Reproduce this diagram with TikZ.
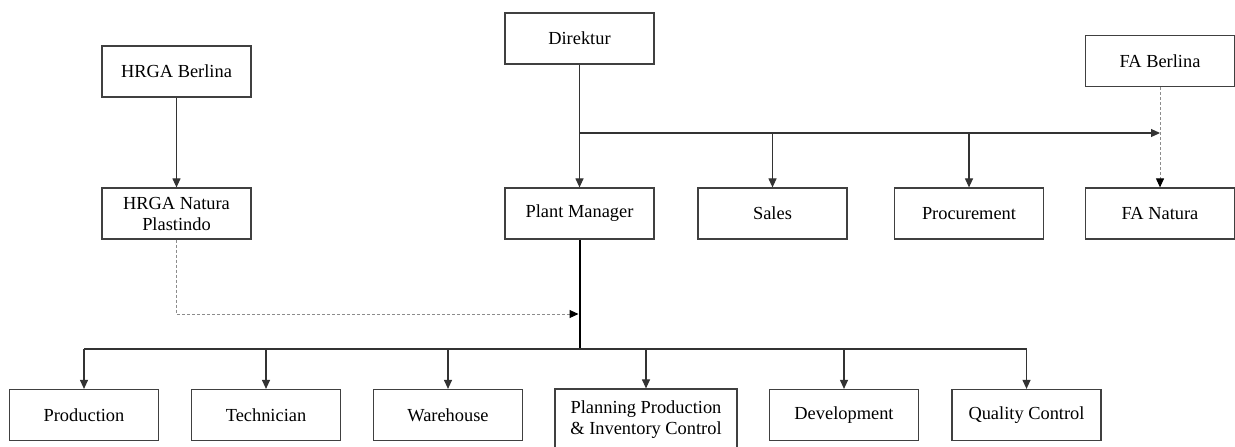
\documentclass[tikz,border=0pt]{standalone}
\usepackage{fontspec}
\setmainfont{Liberation Serif}
\usepackage{tikz}
\usetikzlibrary{arrows.meta}
\usetikzlibrary{positioning}

\begin{document}
\begin{tikzpicture}[x=0.5pt, y=-0.5pt, align=center,
	font=\fontsize{9.2}{10.5}\selectfont,
	unit/.style={rectangle, draw=black!75, line width=0.6pt, fill=white,
				minimum width=74.5pt, minimum height=25.5pt, inner sep=1pt},
	wide/.style={unit, minimum width=91pt, minimum height=31pt},
	link/.style={draw=black!80, line width=0.55pt},
	arr/.style={link, -{Triangle[length=4.5pt, width=4pt]}},
	dotln/.style={draw=black!45, line width=0.5pt, dash pattern=on 1.5pt off 1pt,
				-{Triangle[length=4.5pt, width=4pt, black]}},
	spine/.style={draw=black, line width=1pt},
]
\clip (0,0) rectangle (1235,446);
\fill [white] (0,0) rectangle (1235,446);
% top level
\node [unit] (dir)   at (579.5,38.5)  {Direktur};
\node [unit] (hrgab) at (176.5,71.5)  {HRGA Berlina};
\node [unit] (fab)   at (1160,61)     {FA Berlina};
% second level
\node [unit] (hrgan) at (176.5,213.5) {HRGA Natura\\Plastindo};
\node [unit] (pm)    at (579.5,213.5) {Plant Manager};
\node [unit] (sales) at (772.5,213.5) {Sales};
\node [unit] (proc)  at (969,213.5)   {Procurement};
\node [unit] (fan)   at (1160,213.5)  {FA Natura};
% departments
\node [unit] (prod)  at (84,415)      {Production};
\node [unit] (tech)  at (266,415)     {Technician};
\node [unit] (ware)  at (448,415)     {Warehouse};
\node [wide] (plan)  at (646,420)     {Planning Production\\\& Inventory Control};
\node [unit] (dev)   at (844,415)     {Development};
\node [unit] (qc)    at (1026.5,415)  {Quality Control};
%
\coordinate (split) at (579.5,133);
\coordinate (faj)   at (1160,133);
\coordinate (join)  at (578.5,314);
\coordinate (bus)   at (580,349);
%
\draw [arr] (dir) -- (pm);
\draw [arr] (split) -- (faj);
\draw [arr] (sales |- split) -- (sales);
\draw [arr] (proc |- split) -- (proc);
\draw [dotln] (fab) -- (fan);
\draw [arr] (hrgab) -- (hrgan);
\draw [dotln] (hrgan) |- (join);
\draw [spine] (pm.south -| bus) -- (bus);
\draw [link] (prod |- bus) -- (qc |- bus);
\foreach \d in {prod, tech, ware, plan, dev, qc}
	\draw [arr] (\d |- bus) -- (\d);
\end{tikzpicture}
\end{document}
